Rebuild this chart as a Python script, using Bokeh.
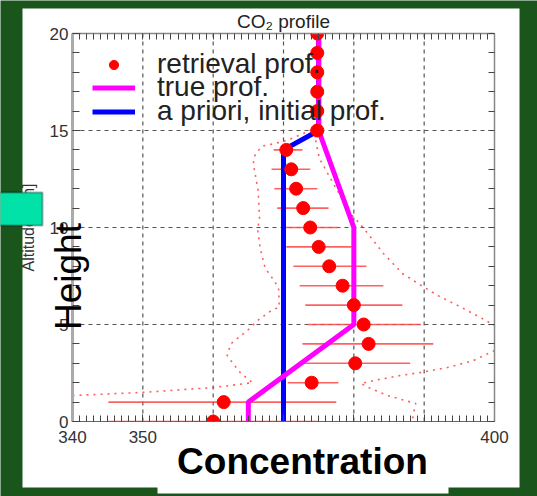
import math
from bokeh.plotting import figure
from bokeh.models import (Range1d, LinearAxis, FixedTicker, Legend, LegendItem,
                          BoxAnnotation, Label)
from bokeh.embed import file_html
from bokeh.resources import INLINE

# ---------------- data ----------------
heights = list(range(21))
retrieval = [360.0, 361.5, 374.0, 380.2, 382.1, 381.4, 380.0, 378.4, 376.5, 375.0,
             373.8, 372.8, 371.8, 371.1, 370.4, 374.8, 374.8, 374.8, 374.8, 374.8, 374.8]
err_low = [345.0, 345.1, 370.6, 372.8, 372.7, 373.4, 373.1, 372.3, 371.4, 370.4,
           369.9, 369.1, 368.7, 368.3, 368.6, 374.6, 374.6, 374.6, 374.6, 374.6, 374.6]
err_high = [374.8, 377.5, 377.8, 388.0, 391.3, 389.5, 386.9, 384.2, 381.8, 379.7,
            377.8, 376.4, 374.8, 373.8, 372.7, 375.0, 375.0, 375.0, 375.0, 375.0, 375.0]

true_conc = [365, 365, 380, 380, 375, 375]
true_alt = [0, 1, 5, 10, 15, 20]

apriori_conc = [370, 370, 375, 375]
apriori_alt = [0, 14, 15, 20]

env_left_conc = [340.0, 350.0, 360.0, 365.6, 363.9, 362.8, 362.0, 362.5, 364.9,
                 366.3, 368.2, 369.4, 369.3, 368.4, 367.4, 366.7, 366.3, 366.6, 366.4,
                 365.7, 366.0, 367.0, 368.4, 370.6, 373.8, 374.8]
env_left_alt = [1.34, 1.5, 1.75, 2.0, 2.5, 3.0, 3.4, 4.0, 4.7,
                5.2, 5.7, 5.9, 6.9, 7.4, 7.9, 8.9, 9.95, 10.4, 11.9,
                13.3, 13.8, 14.2, 14.3, 14.5, 15.0, 15.3]

env_right_upper_conc = [374.4, 374.8, 375.1, 377.4, 380.0, 380.7, 382.4, 384.2, 386.9,
                        389.2, 391.9, 395.2, 398.0, 400.0]
env_right_upper_alt = [14.85, 14.07, 13.56, 12.06, 10.5, 10.26, 9.5, 8.66, 7.63,
                       7.1, 6.5, 5.9, 5.36, 4.95]
env_right_lower_conc = [400.0, 397.0, 393.3, 389.5, 386.6, 382.8, 381.0, 382.4, 384.8,
                        387.3, 388.8, 388.5, 388.3]
env_right_lower_alt = [3.66, 3.14, 2.78, 2.53, 2.37, 2.11, 1.96, 1.7, 1.34,
                       1.08, 0.93, 0.46, 0.0]

x_ticks = [340, 350, 360, 370, 380, 390, 400]
x_minor = list(range(340, 401))
y_ticks = [0, 5, 10, 15, 20]
y_minor = list(range(0, 21))

title_text = "CO\u2082 profile"
legend_labels = ["retrieval prof.", "true prof.", "a priori, initial prof."]
x_title = "Concentration"
y_title_overlay = "Height"
y_axis_label = "Altitude [km]"

# ---------------- geometry & styling ----------------
GREEN = "#1a561c"
FONT = "Liberation Sans"
W, H = 537, 496
FL, FR, FT, FB = 72, 494, 33, 421          # plot box in canvas pixels
X0, X1, Y0, Y1 = 340, 400, 0, 20
SX = (X1 - X0) / (FR - FL)
SY = (Y1 - Y0) / (FB - FT)
CX0 = X0 - FL * SX
CX1 = CX0 + W * SX
CY1 = Y1 + FT * SY
CY0 = CY1 - H * SY


def dx(px):
    return CX0 + px * SX


def dy(py):
    return CY1 - py * SY


p = figure(width=W, height=H, x_range=Range1d(CX0, CX1), y_range=Range1d(CY0, CY1),
           x_axis_type=None, y_axis_type=None, min_border=0,
           output_backend="svg", toolbar_location=None,
           border_fill_color=GREEN, background_fill_color=GREEN, outline_line_color=None)

# white panel behind the chart
p.add_layout(BoxAnnotation(left=dx(22), right=dx(519), top=dy(8), bottom=dy(487),
                           fill_color="white", fill_alpha=1.0, line_alpha=0, level="image"))


def make_axis(ticks, minor, loc, bounds, side):
    ax = LinearAxis(ticker=FixedTicker(ticks=ticks, minor_ticks=minor), fixed_location=loc,
                    bounds=bounds, major_tick_out=0, minor_tick_out=0,
                    major_tick_line_color="#444444", minor_tick_line_color="#444444",
                    major_label_text_font=FONT, major_label_text_font_size="17px",
                    major_label_text_color="#333333")
    p.add_layout(ax, side)
    return ax


xa = make_axis(x_ticks, x_minor, Y0, (X0, X1), "below")
xa.major_tick_in = 7
xa.minor_tick_in = 6
xa.major_label_standoff = 9
xa.axis_line_color = "#666666"

ya = make_axis(y_ticks, y_minor, X0, (Y0, Y1), "left")
ya.major_tick_in = 8
ya.minor_tick_in = 7
ya.major_label_standoff = 4
ya.axis_line_color = "#aaaaaa"
ya.axis_line_width = 3
ya.axis_label = y_axis_label
ya.axis_label_text_font = FONT
ya.axis_label_text_font_size = "16px"
ya.axis_label_text_font_style = "normal"
ya.axis_label_text_color = "#333333"
ya.axis_label_standoff = 10

ta = make_axis([], x_minor, Y1, (X0, X1), "above")
ta.minor_tick_in = 6
ta.axis_line_color = "#888888"
ta.axis_line_width = 1.5
ra = make_axis([], y_minor, X1, (Y0, Y1), "right")
ra.minor_tick_in = 6
ra.axis_line_color = "#888888"
ra.axis_line_width = 1.5

# dashed grid at the inner major ticks
gx = x_ticks[1:-1]
gy = y_ticks[1:-1]
p.segment(x0=gx, y0=[Y0] * len(gx), x1=gx, y1=[Y1] * len(gx),
          line_color="#555555", line_dash="4 4", line_width=1.2)
p.segment(x0=[X0] * len(gy), y0=gy, x1=[X1] * len(gy), y1=gy,
          line_color="#555555", line_dash="4 4", line_width=1.2)

# envelope (dotted)
env_style = dict(line_color="#ff3333", line_width=1.6, line_dash="2 5", line_alpha=0.8)
p.line(env_left_conc, env_left_alt, **env_style)
p.line(env_right_upper_conc, env_right_upper_alt, **env_style)
p.line(env_right_lower_conc, env_right_lower_alt, **env_style)

# error bars
p.segment(x0=err_low, y0=heights, x1=err_high, y1=heights,
          line_color="#ff4444", line_width=1.6, line_alpha=0.85)

apriori = p.line(apriori_conc, apriori_alt, line_color="#0000ff", line_width=5)
true_r = p.line(true_conc, true_alt, line_color="#ff00ff", line_width=5)
dots = p.scatter(retrieval, heights, size=13, fill_color="#ff0000", line_color="#ff0000")

# white strips outside the plot box (emulate clipping of the edge markers)
p.add_layout(BoxAnnotation(left=X0 - 1, right=X1 + 1, top=Y0, bottom=dy(FB + 12),
                           fill_color="white", fill_alpha=1.0, line_alpha=0, level="glyph"))
p.add_layout(BoxAnnotation(left=X0 - 1, right=X1 + 1, top=dy(FT - 12), bottom=Y1,
                           fill_color="white", fill_alpha=1.0, line_alpha=0, level="glyph"))

# legend: one entry per Legend so the rows can sit as tightly as in the original
legend_rows = [(legend_labels[0], dots, 63), (legend_labels[1], true_r, 86),
               (legend_labels[2], apriori, 110)]
for label, rend, cy in legend_rows:
    lg = Legend(items=[LegendItem(label=label, renderers=[rend])],
                location=(92, 479 - cy), border_line_color=None, background_fill_alpha=0,
                label_text_font=FONT, label_text_font_size="28px",
                label_text_color="#222222",
                label_standoff=22, glyph_width=43, glyph_height=23, label_height=23,
                spacing=0, padding=0, margin=0)
    p.add_layout(lg)

# title
p.add_layout(Label(x=dx(283), y=dy(21), text=title_text, text_align="center",
                   text_baseline="alphabetic", text_font=FONT, text_font_size="19px",
                   text_color="#222222"))

# overlays
p.add_layout(BoxAnnotation(left=dx(157), right=dx(448), top=dy(428), bottom=dy(493),
                           fill_color="white", fill_alpha=1.0, line_alpha=0))
p.add_layout(Label(x=dx(302), y=dy(461), text=x_title, text_align="center",
                   text_baseline="alphabetic", text_font=FONT, text_font_size="37px",
                   text_font_style="bold", text_color="black"))
p.add_layout(BoxAnnotation(left=dx(-3), right=dx(42), top=dy(192), bottom=dy(225),
                           fill_color="#00e2a8", fill_alpha=1.0, line_color="black",
                           line_width=2))
p.add_layout(Label(x=dx(68), y=dy(276), text=y_title_overlay, angle=math.pi / 2,
                   text_align="center", text_baseline="middle", text_font=FONT,
                   text_font_size="37px", text_color="black"))

open("out.html", "w").write(file_html(p, INLINE))
